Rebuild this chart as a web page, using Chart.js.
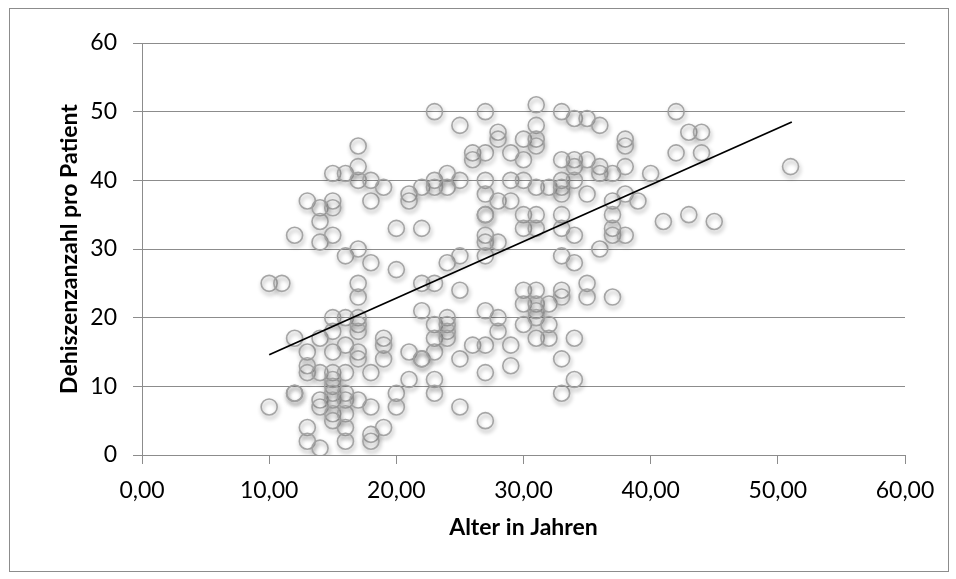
<!DOCTYPE html>
<html lang="de">

<head>
    <meta charset="UTF-8">
    <title>Dehiszenzen nach Alter</title>
    <script src="https://cdn.jsdelivr.net/npm/chart.js@4.4.1/dist/chart.umd.min.js"></script>
    <style>
        body { margin: 0; background: #fff; }
        #box { width: 956px; height: 579px; }
    </style>
</head>

<body>
    <div id="box"><canvas id="chart"></canvas></div>
    <script>
        // Alter (Jahre) und die Dehiszenzanzahl der Patienten in diesem Alter
        const alter = [10, 11, 12, 13, 14, 15, 16, 17, 18, 19, 20, 21, 22, 23, 24, 25, 26, 27, 28, 29, 30,
            31, 32, 33, 34, 35, 36, 37, 38, 39, 40, 41, 42, 43, 44, 45, 51];
        const dehiszenzen = [
            [25, 7],
            [25],
            [32, 17, 9, 9],
            [37, 15, 13, 12, 4, 2],
            [36, 34, 31, 17, 12, 8, 7, 1],
            [41, 37, 36, 32, 20, 18, 15, 12, 11, 10, 9, 8, 6, 5],
            [41, 29, 20, 16, 12, 9, 8, 6, 4, 2],
            [45, 42, 40, 30, 25, 23, 20, 19, 18, 15, 14, 8],
            [40, 37, 28, 12, 7, 3, 2],
            [39, 17, 16, 14, 4],
            [33, 27, 9, 7],
            [38, 37, 15, 11],
            [39, 33, 25, 21, 14, 14],
            [50, 40, 39, 25, 19, 17, 15, 11, 9],
            [41, 39, 28, 20, 19, 18, 17],
            [48, 40, 29, 24, 14, 7],
            [44, 43, 16],
            [50, 44, 40, 38, 35, 35, 32, 31, 29, 21, 16, 12, 5],
            [47, 46, 37, 31, 20, 18],
            [44, 40, 37, 16, 13],
            [46, 43, 40, 35, 33, 24, 22, 19],
            [51, 48, 46, 45, 39, 35, 33, 24, 22, 21, 20, 17],
            [39, 22, 19, 17],
            [50, 43, 40, 39, 38, 35, 33, 29, 24, 23, 14, 9],
            [49, 43, 42, 40, 32, 28, 17, 11],
            [49, 43, 38, 25, 23],
            [48, 42, 41, 30],
            [41, 37, 35, 33, 32, 23],
            [46, 45, 42, 38, 32],
            [37],
            [41],
            [34],
            [50, 44],
            [47, 35],
            [47, 44],
            [34],
            [42]
        ];

        // lineare Trendlinie (Anfang und Ende)
        const trendX = [10, 51.1];
        const trendY = [14.6, 48.5];

        const xTickLabels = ['0,00', '10,00', '20,00', '30,00', '40,00', '50,00', '60,00'];
        const yTickLabels = ['0', '10', '20', '30', '40', '50', '60'];

        const punkte = [];
        alter.forEach((a, i) => {
            dehiszenzen[i].forEach(d => punkte.push({ x: a, y: d }));
        });
        const trend = trendX.map((x, i) => ({ x: x, y: trendY[i] }));

        const gridColor = '#8c8c8c';
        const font = { family: 'Lato', size: 23 };

        const rahmen = {
            id: 'rahmen',
            beforeDraw(chart) {
                const c = chart.ctx;
                c.save();
                c.fillStyle = '#fff';
                c.fillRect(0, 0, chart.width, chart.height);
                c.strokeStyle = gridColor;
                c.lineWidth = 1;
                c.strokeRect(9.5, 8.5, 939, 563);
                c.restore();
            },
            beforeDatasetDraw(chart, args) {
                if (args.index !== 1) return;
                const c = chart.ctx;
                c.save();
                c.shadowColor = 'rgba(0, 0, 0, 0.4)';
                c.shadowBlur = 4;
                c.shadowOffsetX = 1;
                c.shadowOffsetY = 3;
            },
            afterDatasetDraw(chart, args) {
                if (args.index !== 1) return;
                chart.ctx.restore();
            }
        };

        new Chart(document.getElementById('chart'), {
            type: 'scatter',
            data: {
                datasets: [{
                    label: 'Trend',
                    data: trend,
                    showLine: true,
                    borderColor: '#000',
                    borderWidth: 1.8,
                    pointRadius: 0
                }, {
                    label: 'Dehiszenzen',
                    data: punkte,
                    pointRadius: 8,
                    pointBorderWidth: 1.6,
                    pointBorderColor: 'rgba(160, 160, 160, 0.95)',
                    pointBackgroundColor: 'rgba(255, 255, 255, 0)'
                }]
            },
            options: {
                responsive: true,
                maintainAspectRatio: false,
                animation: false,
                layout: { padding: { left: 9, top: 43, right: 51, bottom: 8 } },
                plugins: {
                    legend: { display: false },
                    tooltip: { enabled: false }
                },
                scales: {
                    x: {
                        type: 'linear',
                        min: 0,
                        max: 60,
                        afterFit: s => { s.height = 116; },
                        ticks: {
                            stepSize: 10,
                            padding: 13,
                            color: '#000',
                            font: font,
                            maxRotation: 0,
                            callback: (v, i) => xTickLabels[i]
                        },
                        grid: { drawOnChartArea: false, drawTicks: true, tickLength: 9, color: gridColor },
                        border: { color: gridColor },
                        title: {
                            display: true,
                            text: 'Alter in Jahren',
                            color: '#000',
                            font: { family: 'Lato', size: 23, weight: 'bold' },
                            padding: { top: 0, bottom: 30 }
                        }
                    },
                    y: {
                        min: 0,
                        max: 60,
                        afterFit: s => { s.width = 133; },
                        ticks: {
                            stepSize: 10,
                            padding: 16,
                            color: '#000',
                            font: font,
                            callback: (v, i) => yTickLabels[i]
                        },
                        grid: { color: gridColor, tickLength: 9 },
                        border: { color: gridColor },
                        title: {
                            display: true,
                            text: 'Dehiszenzanzahl pro Patient',
                            color: '#000',
                            font: { family: 'Lato', size: 23, weight: 'bold' },
                            padding: { top: 47, bottom: 0 }
                        }
                    }
                }
            },
            plugins: [rahmen]
        });
    </script>
</body>

</html>
